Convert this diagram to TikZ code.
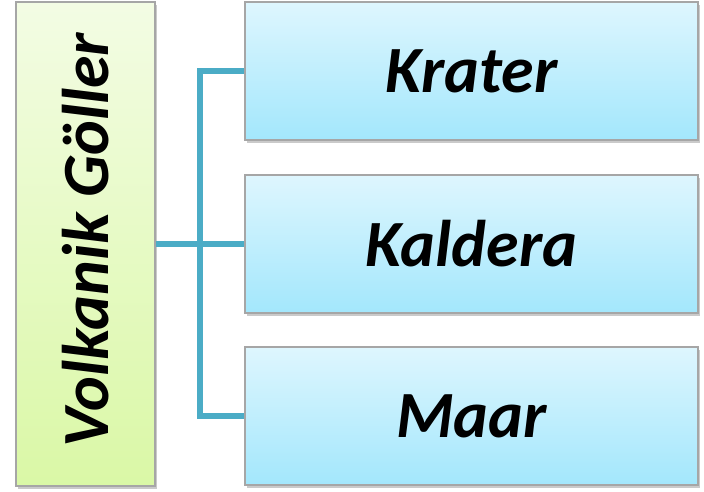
\documentclass[tikz,border=0pt]{standalone}
\usepackage{fontspec}
\setmainfont{Carlito}
\usetikzlibrary{shadows,positioning}
\definecolor{lgtop}{HTML}{F3FCE4}
\definecolor{lgbot}{HTML}{DAF8A6}
\definecolor{btop}{HTML}{DEF6FE}
\definecolor{bbot}{HTML}{A3E7FC}
\definecolor{bord}{HTML}{A6A6A6}
\definecolor{conn}{HTML}{4BACC6}
\tikzset{
  bigtext/.style={font=\fontsize{66}{66}\selectfont\bfseries\itshape},
  greenbox/.style={draw=bord, line width=1.5pt, top color=lgtop, bottom color=lgbot,
    drop shadow={shadow xshift=2pt, shadow yshift=-3pt, opacity=0.35, fill=black!60},
    minimum width=139pt, minimum height=484pt, inner sep=0pt},
  bluebox/.style={draw=bord, line width=1.5pt, top color=btop, bottom color=bbot,
    drop shadow={shadow xshift=2pt, shadow yshift=-3pt, opacity=0.35, fill=black!60},
    minimum width=453pt, minimum height=138pt, inner sep=0pt, bigtext},
  link/.style={draw=conn, line width=5.5pt}
}
\begin{document}
\begin{tikzpicture}[x=1pt,y=-1pt]
\useasboundingbox (0,0) rectangle (704,491);
\node[greenbox] (L) at (85.5,244) {};
\node[rotate=90, bigtext] (Lt) at (86,240) {Volkanik Göller};
\node[bluebox] (A) at (471.5,71) {Krater};
\node[bluebox] (B) at (471.5,244) {Kaldera};
\node[bluebox] (C) at (471.5,416) {Maar};
\coordinate (J) at (200,244);
\draw[link] (L.east) -- (J);
\draw[link] (J) |- (A.west);
\draw[link] (J) -- (B.west);
\draw[link] (J) |- (C.west);
\end{tikzpicture}
\end{document}
